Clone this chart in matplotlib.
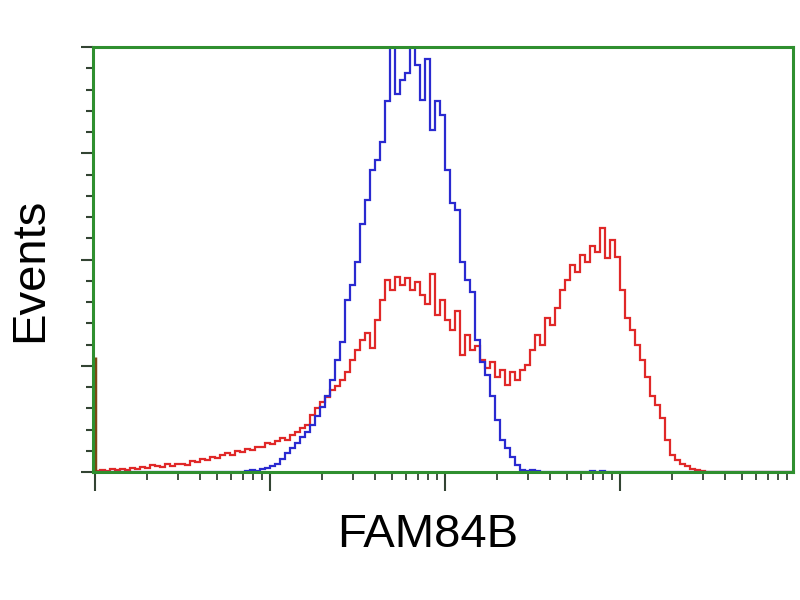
import numpy as np
import matplotlib
matplotlib.use('Agg')
import matplotlib.pyplot as plt
from matplotlib.ticker import LogLocator, MultipleLocator, NullFormatter

# counts per channel, 140 channels spread over 4 decades
red_counts = [
    1, 2, 1, 3, 2, 3, 2, 4, 3, 5, 4, 7, 6, 5, 8, 6, 8, 8, 7, 10,
    9, 12, 11, 14, 13, 16, 18, 16, 20, 19, 22, 21, 24, 24, 27, 26, 29, 32, 30, 35,
    38, 41, 44, 54, 60, 66, 71, 77, 81, 87, 94, 105, 115, 124, 131, 117, 143, 162, 181, 171,
    184, 176, 183, 171, 179, 167, 158, 186, 148, 162, 143, 134, 152, 110, 129, 115, 119, 105, 98, 104,
    89, 96, 82, 94, 87, 96, 101, 115, 129, 120, 145, 138, 154, 171, 181, 195, 188, 204, 198, 213,
    207, 230, 201, 218, 202, 171, 145, 134, 120, 105, 89, 72, 63, 51, 30, 16, 11, 8, 6, 3,
    2, 1, 0, 0, 0, 0, 0, 0, 0, 0, 0, 0, 0, 0, 0, 0, 0, 0, 0, 0,
]
blue_counts = [
    0, 0, 0, 0, 0, 0, 0, 0, 0, 0, 0, 0, 0, 0, 0, 0, 0, 0, 0, 0,
    0, 0, 0, 0, 0, 0, 0, 0, 0, 0, 1, 2, 1, 3, 4, 6, 8, 12, 18, 23,
    27, 33, 38, 44, 53, 61, 72, 87, 105, 122, 162, 176, 198, 233, 256, 284, 294, 311, 349, 415,
    356, 369, 376, 420, 383, 350, 389, 322, 349, 336, 284, 253, 247, 198, 181, 169, 124, 104, 91, 72,
    49, 30, 23, 14, 7, 2, 1, 2, 1, 0, 0, 0, 0, 0, 0, 0, 0, 0, 0, 1,
    0, 1, 0, 0, 0, 0, 0, 0, 0, 0, 0, 0, 0, 0, 0, 0, 0, 0, 0, 0,
    0, 0, 0, 0, 0, 0, 0, 0, 0, 0, 0, 0, 0, 0, 0, 0, 0, 0, 0, 0,
]
first_channel_pileup = 108

x_label = "FAM84B"
y_label = "Events"

edges = np.logspace(0, 4, len(red_counts) + 1)

fig = plt.figure(figsize=(8, 6), dpi=100)
ax = fig.add_axes([0.116, 0.2133, 0.875, 0.7083])

ax.stairs(red_counts, edges, color='#e02828', linewidth=1.6)
ax.stairs(blue_counts, edges, color='#2a2ad0', linewidth=1.6)
# first channel spike
ax.vlines(edges[0] * 1.01, 0, first_channel_pileup, color='#7a4a12', linewidth=2.5)

ax.set_xscale('log')
ax.set_xlim(10 ** -0.011, 10 ** 3.989)
ax.set_ylim(0, 400)

green = '#2f8f2f'
for s in ax.spines.values():
    s.set_color(green)
    s.set_linewidth(2.2)

ax.xaxis.set_major_locator(LogLocator(base=10, numticks=10))
ax.xaxis.set_minor_locator(LogLocator(base=10, subs=np.arange(2, 10), numticks=10))
ax.xaxis.set_major_formatter(NullFormatter())
ax.xaxis.set_minor_formatter(NullFormatter())
ax.yaxis.set_major_locator(MultipleLocator(100))
ax.yaxis.set_minor_locator(MultipleLocator(20))
ax.yaxis.set_major_formatter(NullFormatter())

ax.tick_params(axis='x', which='major', direction='out', length=14, width=1.5, color='#334433')
ax.tick_params(axis='x', which='minor', direction='out', length=6, width=1.3, color='#334433')
ax.tick_params(axis='y', which='major', direction='out', length=9, width=1.5, color='#334433')
ax.tick_params(axis='y', which='minor', direction='out', length=5, width=1.5, color='#334433')

fig.text(428 / 800, 1 - 535 / 600, x_label, ha='center', va='center',
         fontsize=34, family='Liberation Sans')
fig.text(30 / 800, 1 - 270 / 600, y_label, ha='center', va='center', rotation=90,
         fontsize=34, family='Liberation Sans')

plt.savefig('out.png', dpi=100)
plt.close(fig)
